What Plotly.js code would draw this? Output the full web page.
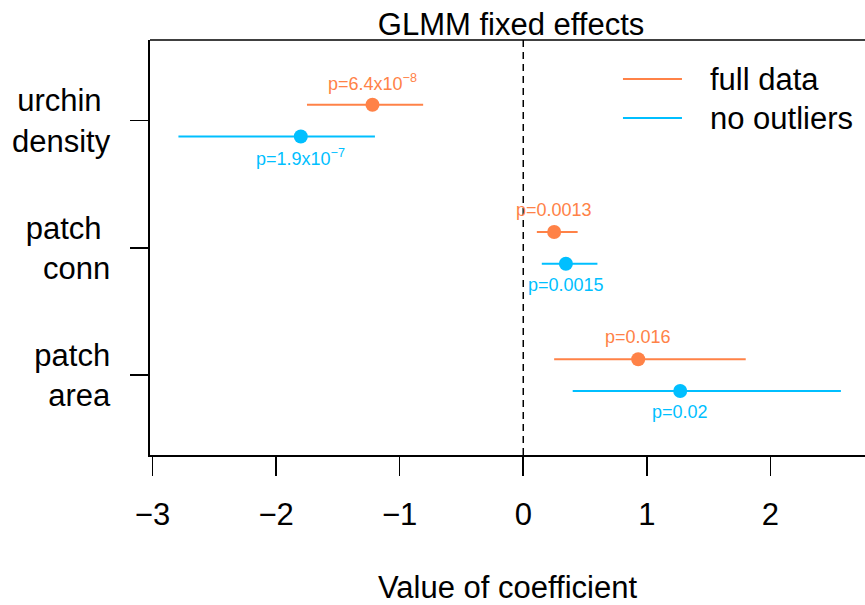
<!DOCTYPE html>
<html>
<head>
<meta charset="utf-8">
<script src="https://cdn.plot.ly/plotly-3.0.1.min.js"></script>
<style>html,body{margin:0;padding:0;background:#fff;overflow:hidden}</style>
</head>
<body>
<div id="chart" style="width:865px;height:605px"></div>
<script>
// ---- data ----
const categories = ["urchin density", "patch conn", "patch area"];
const categoryLabels = ["urchin\u00a0<br>density", "patch\u00a0<br>conn", "patch<br>area"];
const categoryPos = [3, 2, 1];
const seriesNames = ["full data", "no outliers"];
const fullEst = [-1.22, 0.25, 0.93];
const fullLow = [-1.75, 0.11, 0.25];
const fullHigh = [-0.81, 0.44, 1.80];
const fullP = ["p=6.4x10<sup>\u22128</sup>", "p=0.0013", "p=0.016"];
const noOutEst = [-1.80, 0.345, 1.27];
const noOutLow = [-2.79, 0.15, 0.40];
const noOutHigh = [-1.20, 0.60, 2.57];
const noOutP = ["p=1.9x10<sup>\u22127</sup>", "p=0.0015", "p=0.02"];
const xTicks = [-3, -2, -1, 0, 1, 2];
const xTickText = ["\u22123", "\u22122", "\u22121", "0", "1", "2"];

// ---- style ----
const ORANGE = "#FF8247";
const BLUE = "#00BFFF";
const FONT = "Liberation Sans, Arial, Helvetica, sans-serif";
const OFF = 0.125;

function mkTrace(name, est, lo, hi, color, sign) {
  return {
    type: "scatter", mode: "markers", name: name, showlegend: false,
    x: est,
    y: categoryPos.map(v => v + sign * OFF),
    marker: {color: color, size: 14, line: {width: 0}},
    error_x: {
      type: "data", symmetric: false,
      array: hi.map((h, i) => h - est[i]),
      arrayminus: lo.map((l, i) => est[i] - l),
      color: color, thickness: 2, width: 0
    },
    hoverinfo: "x+y"
  };
}

const traces = [
  mkTrace(seriesNames[0], fullEst, fullLow, fullHigh, ORANGE, 1),
  mkTrace(seriesNames[1], noOutEst, noOutLow, noOutHigh, BLUE, -1)
];

const annotations = [];
fullEst.forEach((v, i) => annotations.push({
  x: v, y: categoryPos[i] + OFF, xref: "x", yref: "y", text: fullP[i],
  showarrow: false, yanchor: "middle", yshift: 22,
  font: {family: FONT, size: 18, color: ORANGE}
}));
noOutEst.forEach((v, i) => annotations.push({
  x: v, y: categoryPos[i] - OFF, xref: "x", yref: "y", text: noOutP[i],
  showarrow: false, yanchor: "middle", yshift: -21,
  font: {family: FONT, size: 18, color: BLUE}
}));
// manual legend
const legendColors = [ORANGE, BLUE];
const legendY = [0.906, 0.812];
const shapes = [
  {type: "line", xref: "x", yref: "paper", x0: 0, x1: 0, y0: 0, y1: 1,
   line: {color: "black", width: 1.5, dash: "7px,5px"}, layer: "below"},
  {type: "line", xref: "paper", yref: "paper", x0: 0, x1: 1.02, y0: 1, y1: 1,
   line: {color: "black", width: 1.6}}
];
seriesNames.forEach((n, i) => {
  shapes.push({type: "line", xref: "paper", yref: "paper", x0: 0.6615, x1: 0.744,
    y0: legendY[i], y1: legendY[i], line: {color: legendColors[i], width: 2}});
  annotations.push({xref: "paper", yref: "paper", x: 0.7805, y: legendY[i],
    xanchor: "left", yanchor: "middle", showarrow: false, text: n,
    font: {family: FONT, size: 31, color: "black"}});
});

const layout = {
  width: 865, height: 605,
  margin: {l: 150, r: 0, t: 40, b: 150, pad: 0},
  paper_bgcolor: "white", plot_bgcolor: "white",
  showlegend: false,
  font: {family: FONT, color: "black"},
  title: {text: "GLMM fixed effects", font: {family: FONT, size: 31, color: "black"},
          xref: "paper", x: 0.505, xanchor: "center", yref: "container", y: 1 - 24 / 605, yanchor: "middle"},
  xaxis: {
    range: [-3.02, 2.765], tickvals: xTicks, ticktext: xTickText,
    showgrid: false, zeroline: false, showline: true, linecolor: "black", linewidth: 1.6,
    ticks: "outside", ticklen: 19, tickwidth: 1.6, tickcolor: "black",
    tickfont: {family: FONT, size: 31, color: "black"}, ticklabelstandoff: 12,
    title: {text: "Value of coefficient", font: {family: FONT, size: 31, color: "black"}, standoff: 48},
    fixedrange: true
  },
  yaxis: {
    range: [0.372, 3.634], tickvals: categoryPos, ticktext: categoryLabels,
    showgrid: false, zeroline: false, showline: true, linecolor: "black", linewidth: 1.6,
    ticks: "outside", ticklen: 18, tickwidth: 1.6, tickcolor: "black",
    tickfont: {family: FONT, size: 31, color: "black"}, ticklabelstandoff: 14,
    fixedrange: true
  },
  shapes: shapes,
  annotations: annotations
};

Plotly.newPlot("chart", traces, layout, {displayModeBar: false, staticPlot: true});
</script>
</body>
</html>
